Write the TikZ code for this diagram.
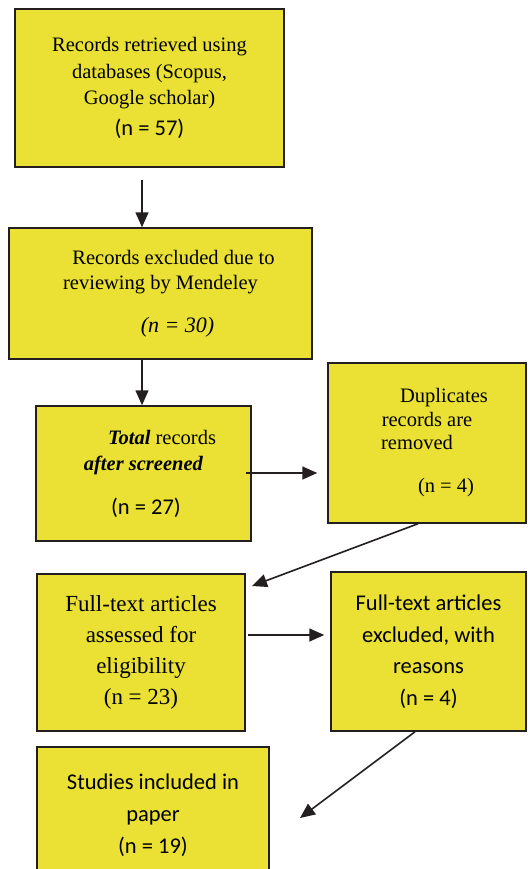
\documentclass[tikz,border=0pt]{standalone}
\usepackage{fontspec}
\setmainfont{Liberation Serif}
\newfontfamily\carlito{Carlito}
\usetikzlibrary{arrows.meta, positioning, calc}
\definecolor{boxfill}{HTML}{EAE134}
\definecolor{boxline}{HTML}{231F20}

\begin{document}
\begin{tikzpicture}[x=1pt, y=-1pt,
    box/.style={rectangle, draw=boxline, fill=boxfill, line width=1.5pt,
                inner sep=0pt, align=center},
    arr/.style={-{Triangle[length=15pt, width=13pt]}, line width=1.6pt, boxline}
  ]
  \useasboundingbox (0,0) rectangle (527,869);
  \node[box, minimum width=269pt, minimum height=158pt, font=\fontsize{20.5}{26.5}\selectfont]
    (retrieved) at (149.5,88)
    {Records retrieved using\\databases (Scopus,\\Google scholar)\\[4pt]{\carlito\fontsize{22.5}{27}\selectfont (n = 57)}};
  \node[box, minimum width=303pt, minimum height=131pt, font=\fontsize{20.5}{25}\selectfont]
    (mendeley) at (160.5,293.5)
    {\hspace*{26pt}Records excluded due to\\reviewing by Mendeley\\[18pt]\hspace*{34pt}{\itshape\fontsize{22}{25}\selectfont (n = 30)}};
  \node[box, minimum width=215pt, minimum height=135pt, font=\fontsize{20.5}{26}\selectfont]
    (screened) at (143.5,473.5)
    {\hspace*{37pt}\textbf{\textit{Total}} records\\\textbf{\textit{after screened}}\\[18pt]\hspace*{5pt}{\carlito\fontsize{22.5}{26}\selectfont (n = 27)}};
  \node[box, minimum width=198pt, minimum height=160pt, font=\fontsize{20.5}{23.5}\selectfont]
    (duplicates) at (427,443)
    {\hspace*{34pt}Duplicates\\records are\\\mbox{removed\hspace{20pt}}\\[19.5pt]\hspace*{38pt}(n = 4)};
  \node[box, minimum width=208pt, minimum height=157pt, font=\fontsize{23}{31}\selectfont]
    (assessed) at (141,652.5)
    {Full-text articles\\assessed for\\eligibility\\(n = 23)};
  \node[box, minimum width=195pt, minimum height=159pt, font=\carlito\fontsize{22.5}{31.5}\selectfont]
    (excluded) at (428.5,651.5)
    {Full-text articles\\excluded, with\\reasons\\(n = 4)};
  \node[box, minimum width=232pt, minimum height=136pt, font=\carlito\fontsize{22.5}{32}\selectfont]
    (included) at (153,815)
    {Studies included in\\paper\\(n = 19)};
  % connectors
  \coordinate (a1) at (142,180);
  \coordinate (a3) at (246,473);
  \coordinate (a4) at (252,586);
  \coordinate (a5) at (248,635);
  \coordinate (a6) at (300,818);
  \draw[arr] (a1) -- (a1 |- mendeley.north);
  \draw[arr] (a1 |- mendeley.south) -- (a1 |- screened.north);
  \draw[arr, shorten >=10pt] (a3) -- (a3 -| duplicates.west);
  \draw[arr] ([xshift=-9pt]duplicates.south) -- (a4);
  \draw[arr, shorten >=6pt] (a5) -- (a5 -| excluded.west);
  \draw[arr] ([xshift=-13.5pt]excluded.south) -- (a6);
\end{tikzpicture}
\end{document}
